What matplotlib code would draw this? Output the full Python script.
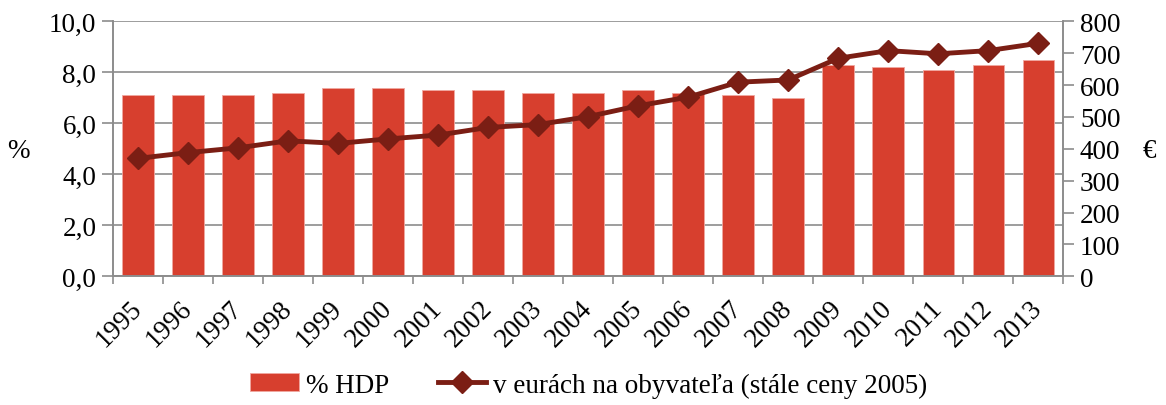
import matplotlib.pyplot as plt
import numpy as np
from matplotlib.ticker import FuncFormatter

plt.rcParams['font.family'] = ['Liberation Serif', 'DejaVu Serif']

years = ['1995', '1996', '1997', '1998', '1999', '2000', '2001', '2002', '2003', '2004',
         '2005', '2006', '2007', '2008', '2009', '2010', '2011', '2012', '2013']
hdp = [7.1, 7.1, 7.1, 7.2, 7.4, 7.4, 7.3, 7.3, 7.2, 7.2,
       7.3, 7.2, 7.1, 7.0, 8.3, 8.2, 8.1, 8.3, 8.5]
eur = [370, 388, 403, 425, 417, 431, 443, 467, 476, 501,
       535, 562, 609, 616, 684, 708, 698, 708, 731]

bar_color = '#d73f2e'
line_color = '#7b1e14'
grid_color = '#8c8c8c'
fs = 19.5

fig = plt.figure(figsize=(11.66, 4.06), dpi=100)
ax = fig.add_axes([113 / 1166, 1 - 277.3 / 406, (1063.3 - 113) / 1166, 255 / 406])
ax2 = ax.twinx()

x = np.arange(len(years))
bars = ax.bar(x, hdp, width=0.63, color=bar_color, edgecolor='#f0a8a0', linewidth=0.6,
              zorder=2, label='% HDP')
line, = ax2.plot(x, eur, color=line_color, lw=3.5, marker='D', markersize=11,
                 zorder=3, label='v eurách na obyvateľa (stále ceny 2005)')

ax.set_xlim(-0.5, len(years) - 0.5)
ax.set_ylim(0, 10)
ax.set_yticks(np.arange(0, 10.1, 2))
ax.yaxis.set_major_formatter(FuncFormatter(lambda v, p: f'{v:.1f}'.replace('.', ',')))
ax2.set_ylim(0, 800)
ax2.set_yticks(np.arange(0, 801, 100))

ax.grid(axis='y', color=grid_color, lw=1.2, zorder=0)
ax.set_axisbelow(True)

# category ticks sit between the bars, year labels under the bars
ax.set_xticks(np.arange(len(years) + 1) - 0.5)
ax.set_xticklabels([])
ax.set_xticks(x, minor=True)
ax.set_xticklabels(years, minor=True, rotation=45, ha='right', va='center',
                   rotation_mode='anchor', fontsize=fs)
ax.tick_params(axis='x', which='minor', length=0, pad=20)
ax.tick_params(axis='x', which='major', length=6, color=grid_color, width=1.2)
ax.tick_params(axis='y', length=8, color=grid_color, width=1.2, labelsize=fs, pad=4)
ax2.tick_params(axis='y', length=8, color=grid_color, width=1.2, labelsize=fs, pad=4)

for a in (ax, ax2):
    a.spines['top'].set_visible(False)
    for s in ('left', 'right', 'bottom'):
        a.spines[s].set_color(grid_color)
        a.spines[s].set_linewidth(1.2)

fig.text(18 / 1166, 1 - 152 / 406, '%', fontsize=fs, ha='center', va='center')
fig.text(1149 / 1166, 1 - 152 / 406, '€', fontsize=fs, ha='center', va='center')

fig.legend(handles=[bars, line], loc='center', bbox_to_anchor=(0.505, 1 - 386 / 406),
           ncol=2, frameon=False, fontsize=fs, handlelength=1.8, columnspacing=1.8,
           handletextpad=0.25, handleheight=0.6)

fig.savefig('out.png', dpi=100)
